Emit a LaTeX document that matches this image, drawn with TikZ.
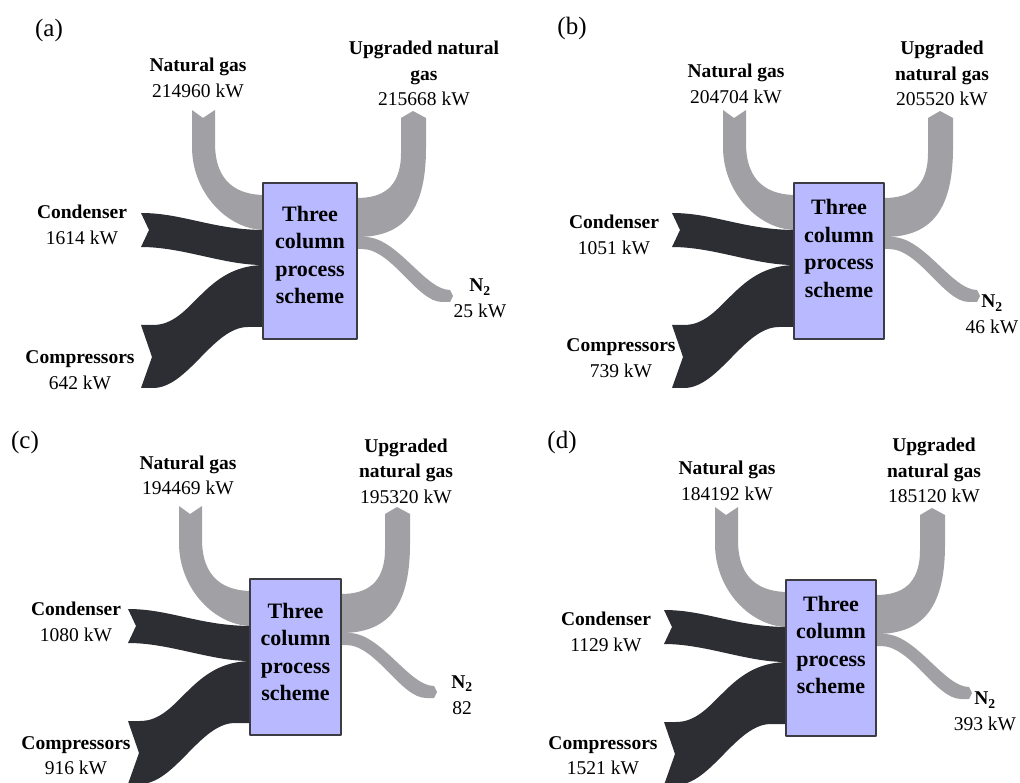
\documentclass[tikz,border=0pt]{standalone}
\usepackage{fontspec}
\setmainfont{Liberation Serif}
\usepackage{tikz}
\definecolor{gasgray}{RGB}{161,161,165}
\definecolor{powdark}{RGB}{44,46,52}
\definecolor{boxblue}{RGB}{185,185,255}
\definecolor{boxedge}{RGB}{60,60,68}

\begin{document}
\begin{tikzpicture}[line cap=round,line join=round,x=1pt,y=-1pt,
  gasflow/.style={fill=gasgray},
  powflow/.style={fill=powdark},
  procbox/.style={draw=boxedge,line width=2.5pt,fill=boxblue,minimum height=156pt,inner sep=0pt},
  proctext/.style={align=center,inner sep=0pt,font=\fontsize{22}{27.5}\selectfont\bfseries},
  lbl/.style={align=center,inner sep=0pt,font=\fontsize{19.5}{25.5}\selectfont},
  tag/.style={inner sep=0pt,font=\fontsize{25}{30}\selectfont}]
\useasboundingbox (0,0) rectangle (1020,783);
% bands and process box of the four cases
\foreach \p/\bx/\by/\bw/\ty in {a/263/183/94/72, b/794/183/90/65.5, c/250/579/91/73, d/786/580/90/65}{
\begin{scope}[shift={(\bx,\by)}]
% natural gas in
\fill[gasflow] (-71,-73) -- (-60,-65) -- (-48,-73) -- (-48,-40) .. controls (-48,0) and (-25,12) .. (2,12) -- (2,47) .. controls (-35,47) and (-71,10) .. (-71,-36) -- cycle;
% upgraded natural gas out
\fill[gasflow] (\bw-2,15) -- (\bw,15) .. controls (\bw+25,15) and (\bw+44,5) .. (\bw+44,-30) -- (\bw+44,-65) -- (\bw+56,-72) -- (\bw+69,-65) -- (\bw+69,-35) .. controls (\bw+69,30) and (\bw+45,54) .. (\bw,54) -- (\bw-2,54) -- cycle;
% nitrogen out
\fill[gasflow] (\bw-2,54) -- (\bw+8,54) .. controls (\bw+40,54) and (\bw+68,107) .. (\bw+93,107) -- (\bw+96,113) -- (\bw+93,119) -- (\bw+85,119) .. controls (\bw+60,119) and (\bw+35,66) .. (\bw+5,66) -- (\bw-2,66) -- cycle;
% condenser
\fill[powflow] (-122,30) .. controls (-80,30) and (-50,47) .. (2,47) -- (2,82) -- (0,82) .. controls (-40,82) and (-80,64) .. (-122,64) -- (-114,47) -- cycle;
% compressors
\fill[powflow] (-122,142) -- (-110,142) .. controls (-70,142) and (-60,82) .. (2,82) -- (2,144) -- (-15,144) .. controls (-50,144) and (-75,205) .. (-110,205) -- (-122,205) -- (-111,174) -- cycle;
\node[procbox,minimum width=\bw pt] (box\p) at (\bw/2,78) {};
\node[proctext] (txt\p) at (\bw/2,\ty) {Three\\column\\process\\scheme};
\end{scope}
}
% (a)
\node[tag] (taga) at (49,30) {(a)};
\node[lbl] (nga) at (198,78) {\textbf{Natural gas}\\214960 kW};
\node[lbl] (unga) at (424,73.5) {\textbf{Upgraded natural}\\\textbf{gas}\\215668 kW};
\node[lbl] (cona) at (82,225) {\textbf{Condenser}\\1614 kW};
\node[lbl] (cmpa) at (80,370) {\textbf{Compressors}\\642 kW};
\node[lbl] (nita) at (480,298.5) {\textbf{N\textsubscript{2}}\\25 kW};
% (b)
\node[tag] (tagb) at (572,28) {(b)};
\node[lbl] (ngb) at (736,84) {\textbf{Natural gas}\\204704 kW};
\node[lbl] (ungb) at (942,73.5) {\textbf{Upgraded}\\\textbf{natural gas}\\205520 kW};
\node[lbl] (conb) at (614,235) {\textbf{Condenser}\\1051 kW};
\node[lbl] (cmpb) at (621,358) {\textbf{Compressors}\\739 kW};
\node[lbl] (nitb) at (992,314.5) {\textbf{N\textsubscript{2}}\\46 kW};
% (c)
\node[tag] (tagc) at (25,442) {(c)};
\node[lbl] (ngc) at (188,475.5) {\textbf{Natural gas}\\194469 kW};
\node[lbl] (ungc) at (406,471) {\textbf{Upgraded}\\\textbf{natural gas}\\195320 kW};
\node[lbl] (conc) at (76,622) {\textbf{Condenser}\\1080 kW};
\node[lbl] (cmpc) at (76,755.5) {\textbf{Compressors}\\916 kW};
\node[lbl] (nitc) at (462,695) {\textbf{N\textsubscript{2}}\\82};
% (d)
\node[tag] (tagd) at (562,442) {(d)};
\node[lbl] (ngd) at (727,481) {\textbf{Natural gas}\\184192 kW};
\node[lbl] (ungd) at (934,470.5) {\textbf{Upgraded}\\\textbf{natural gas}\\185120 kW};
\node[lbl] (cond) at (606,632) {\textbf{Condenser}\\1129 kW};
\node[lbl] (cmpd) at (603,755.5) {\textbf{Compressors}\\1521 kW};
\node[lbl] (nitd) at (985,711.5) {\textbf{N\textsubscript{2}}\\393 kW};
\end{tikzpicture}
\end{document}
